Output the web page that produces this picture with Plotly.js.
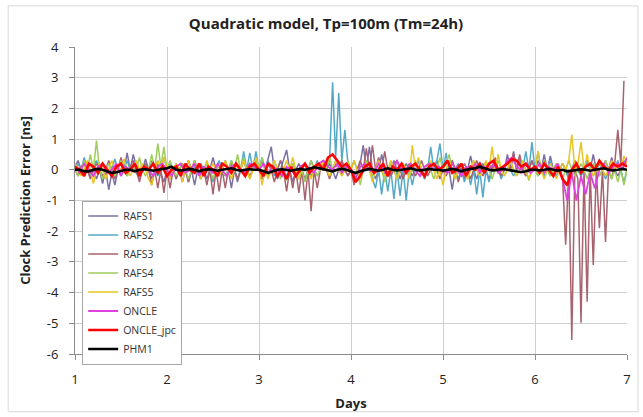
<!DOCTYPE html>
<html>
<head>
<meta charset="utf-8">
<script src="https://cdn.plot.ly/plotly-3.0.1.min.js"></script>
<style>html,body{margin:0;padding:0;background:#fff;}#chart{width:643px;height:417px;}</style>
</head>
<body>
<div id="chart"></div>
<script>
// Series names
const seriesNames = ["RAFS1","RAFS2","RAFS3","RAFS4","RAFS5","ONCLE","ONCLE_jpc","PHM1"];
// Time sampling (days): RAFS series every 48 min, ONCLE/PHM every 72 min, starting day 1
const startDay = 1;
const stepRafs = 1/30;
const stepRef = 0.05;

const rafs1 = [
 0.1,0.3,0.0,-0.2,0.1,0.2,0.0,-0.3,0.0,-0.45,0.0,-0.65,-0.1,-0.5,0.0,0.3,0.0,0.55,0.0,0.5,0.1,-0.2,0.0,0.35,0.0,-0.3,0.0,0.2,-0.1,-0.4,
 0.0,-0.3,0.0,0.2,0.0,-0.4,0.0,0.3,0.0,-0.5,0.0,0.2,0.0,-0.3,0.0,0.4,0.0,-0.2,0.0,0.3,0.0,-0.6,0.0,-0.4,0.0,0.3,0.0,0.2,0.0,0.4,
 0.0,0.3,0.0,0.4,0.75,0.0,-0.3,0.0,0.3,0.65,0.0,-0.4,0.0,0.2,0.0,-0.3,0.0,0.3,0.0,-0.2,0.0,0.3,0.0,0.2,0.0,-0.3,0.0,0.3,0.0,-0.2,
 0.0,-0.2,0.0,0.2,0.8,0.0,0.75,0.0,-0.3,0.0,0.5,0.0,-0.2,0.0,0.3,0.0,-0.3,0.0,0.2,0.0,-0.2,0.0,0.3,0.0,-0.3,0.0,0.2,0.0,0.3,0.0,
 0.0,0.3,0.0,-0.65,0.0,0.2,0.0,-0.3,0.0,0.45,0.0,-0.3,0.0,0.2,0.0,-0.3,0.0,0.2,0.0,-0.2,0.0,0.5,0.0,0.6,0.0,0.3,0.0,-0.2,0.0,0.3,
 0.0,0.3,0.0,0.5,0.0,0.45,0.0,-0.2,0.0,0.2,0.0,-0.3,0.0,0.3,0.0,-0.2,0.0,0.3,0.0,0.5,0.0,-0.2,0.0,0.3,0.0,0.4,0.0,-0.2,0.0,0.3,0.1
];
const rafs2 = [
 0.0,0.2,0.0,0.4,0.0,-0.2,0.1,0.3,0.0,-0.3,0.0,0.2,0.0,0.35,0.0,-0.2,0.0,0.3,0.0,0.1,-0.1,-0.3,0.0,0.2,0.0,0.3,0.0,-0.2,0.0,0.4,
 0.0,0.2,0.0,-0.3,0.0,0.2,0.0,-0.4,0.0,0.1,0.0,-0.3,0.0,0.2,0.0,-0.4,0.0,0.3,0.0,-0.2,0.0,0.3,0.0,-0.3,0.0,0.6,0.0,0.55,0.0,0.6,
 0.0,0.4,0.0,0.3,0.0,-0.2,0.0,0.3,0.0,-0.2,0.0,0.2,0.0,-0.3,0.0,0.2,0.0,-0.2,0.0,0.3,0.0,0.2,0.0,0.3,2.85,0.4,2.5,0.3,1.3,0.2,
 0.0,0.3,0.0,-0.2,0.0,0.2,0.0,-0.3,-0.6,0.0,-0.8,0.0,-0.7,0.0,-0.95,0.0,-0.85,0.0,-1.0,0.0,-0.5,0.0,0.3,0.0,-0.3,0.0,0.75,0.0,0.3,0.85,
 0.0,0.55,0.0,0.3,0.0,-0.3,0.0,-0.4,0.0,-0.5,0.0,-0.8,0.0,-0.9,0.0,-0.4,0.0,0.2,0.0,-0.3,0.0,0.3,0.0,-0.2,0.0,0.4,0.0,0.6,0.0,0.9,
 0.0,0.6,0.0,-0.2,0.0,0.3,0.0,-0.2,0.0,0.2,0.0,-0.3,0.0,0.2,0.0,-0.2,0.0,0.3,0.0,-0.2,0.0,0.2,0.0,-0.3,0.0,0.2,0.0,0.3,0.0,-0.4,0.0
];
const rafs3 = [
 0.0,-0.2,0.1,0.2,0.0,-0.3,0.0,0.2,0.0,-0.2,0.0,0.3,0.0,-0.3,0.0,0.4,0.0,-0.2,0.1,0.3,0.0,-0.4,0.0,0.2,0.0,-0.5,0.0,-0.6,0.0,-0.75,
 0.0,-0.6,0.0,-0.3,0.0,0.2,0.0,-0.4,0.0,0.3,0.0,-0.3,0.0,-0.5,0.0,-0.8,0.0,-0.7,0.0,-0.6,0.0,0.2,0.0,-0.3,0.0,0.3,0.0,-0.2,0.0,0.2,
 0.0,-0.3,0.0,0.2,0.0,-0.4,0.0,0.3,0.0,-0.7,0.0,-0.6,0.0,-0.75,0.0,-1.0,0.0,-1.35,0.0,-0.6,0.0,0.2,0.0,-0.3,0.0,0.2,0.0,0.3,0.0,-0.2,
 0.0,-0.5,0.0,0.3,0.0,0.7,0.0,0.8,0.0,0.4,0.0,0.6,0.0,-0.2,0.0,0.3,0.0,-0.3,0.0,0.2,0.0,-0.2,0.0,0.3,0.0,-0.2,0.0,0.2,0.0,-0.3,
 0.0,-0.2,0.0,0.3,0.0,-0.4,0.0,0.2,0.0,-0.3,0.0,0.3,0.0,-0.2,0.0,0.2,0.0,0.4,0.0,-0.2,0.0,0.3,0.0,0.55,0.0,0.5,0.0,-0.2,0.0,0.3,
 0.0,-0.2,0.0,0.3,0.0,-0.2,0.0,0.2,0.0,-0.3,-2.44,0.0,-5.54,0.0,-0.3,-4.98,0.0,-4.3,0.0,-3.1,0.0,-1.9,0.0,-2.35,0.0,-0.3,0.2,1.3,0.2,2.9
];
const rafs4 = [
 0.0,-0.2,0.0,0.3,0.0,0.5,0.0,0.95,0.0,-0.3,0.0,0.2,0.0,-0.2,0.0,0.3,0.0,-0.2,0.0,0.2,0.0,0.4,0.0,-0.2,0.0,0.5,0.0,0.85,0.1,0.75,
 0.0,0.3,0.0,-0.2,0.0,0.2,0.0,-0.3,0.0,0.3,0.0,-0.2,0.0,0.2,0.0,-0.3,0.0,0.1,0.0,-0.2,0.0,0.3,0.0,0.5,0.0,0.4,0.0,-0.3,0.0,0.3,
 0.0,0.4,0.0,-0.2,0.0,0.3,0.0,-0.3,0.0,-0.35,0.0,0.2,0.0,-0.3,0.0,-0.4,0.0,0.3,0.0,-0.2,0.0,0.3,0.0,0.45,0.0,0.3,0.0,-0.2,0.0,0.3,
 0.0,-0.3,0.0,-0.5,0.0,0.3,0.0,-0.2,0.0,0.3,0.0,-0.4,0.0,0.2,0.0,-0.3,0.0,0.2,0.0,-0.2,0.0,0.3,0.0,-0.2,0.0,0.2,0.0,-0.3,0.0,0.4,
 0.0,0.2,0.5,0.0,-0.3,0.0,0.2,0.0,-0.3,0.0,0.3,0.0,-0.2,0.0,0.2,0.0,-0.3,0.0,0.3,0.0,-0.2,0.0,0.3,0.0,-0.2,0.0,0.2,0.0,-0.35,0.0,
 0.0,-0.2,0.0,0.3,0.0,-0.2,0.0,0.2,0.0,-0.3,0.0,0.3,0.0,-0.2,0.0,0.2,0.0,-0.3,0.0,0.2,0.0,-0.2,0.0,0.3,0.0,-0.3,0.0,-0.4,0.0,-0.5,0.0
];
const rafs5 = [
 0.2,0.0,-0.2,0.0,0.3,0.0,-0.45,0.0,0.2,0.0,-0.3,0.0,0.3,0.0,0.1,0.0,0.35,0.0,-0.2,0.0,0.3,0.0,0.2,0.0,-0.3,-0.5,0.0,0.3,0.0,0.4,
 0.0,-0.3,0.0,0.2,0.0,-0.4,0.0,0.3,0.0,0.2,0.0,-0.3,0.0,0.3,0.0,0.2,0.0,-0.2,0.0,0.3,0.0,-0.3,0.0,0.2,0.0,0.3,0.0,-0.3,0.0,0.4,
 0.1,-0.5,0.0,-0.3,0.0,0.3,0.0,-0.2,0.0,0.3,0.0,0.4,0.0,-0.3,0.0,0.2,0.0,-0.3,0.0,0.2,0.0,0.3,0.0,-0.2,0.0,0.3,0.0,-0.2,0.0,0.2,
 0.0,0.3,0.0,-0.3,0.0,0.2,0.0,-0.4,0.0,0.3,0.0,-0.2,0.0,0.3,0.0,-0.3,0.0,0.2,0.0,-0.3,0.8,0.0,0.4,0.0,-0.2,0.0,0.3,0.0,-0.3,0.0,
 -0.5,0.0,0.3,0.0,-0.3,0.0,0.2,0.0,-0.3,0.0,0.3,0.0,-0.2,0.0,0.3,0.0,0.75,0.0,0.5,0.0,-0.2,0.0,0.3,0.0,-0.2,0.0,0.3,0.0,-0.3,0.0,
 0.0,0.6,0.0,-0.3,0.0,0.2,0.0,-0.3,0.0,0.2,0.0,0.3,1.15,0.0,0.2,0.9,0.0,0.5,0.0,-0.2,0.0,0.3,0.0,-0.2,0.0,0.3,0.0,0.2,0.0,0.45,0.2
];
const oncle = [
 0.1,-0.1,0.2,0.0,-0.2,0.1,0.2,-0.1,0.0,0.2,-0.2,0.1,0.0,0.2,-0.1,0.1,0.0,-0.2,0.1,0.2,
 0.0,-0.2,0.1,0.2,-0.1,0.0,0.2,-0.2,0.1,0.0,-0.1,0.2,0.0,-0.2,0.1,0.2,0.0,-0.1,0.2,0.1,
 0.0,0.2,-0.1,0.1,0.0,-0.2,0.1,0.0,-0.2,0.1,0.2,0.0,-0.1,0.2,0.3,0.1,0.0,0.2,-0.1,0.1,
 0.0,-0.3,0.1,0.2,0.0,-0.1,0.2,0.0,-0.2,0.1,0.3,0.0,-0.1,0.2,0.0,-0.2,0.1,0.2,0.0,0.1,
 0.0,-0.1,0.2,0.0,-0.2,0.1,0.0,0.2,-0.1,0.1,0.0,0.2,-0.1,0.0,0.3,0.4,0.1,0.0,0.2,-0.1,
 0.0,0.2,-0.1,0.1,0.0,0.2,-0.3,-1.0,-0.1,-1.0,-0.2,-0.8,-0.1,-0.6,0.0,0.2,-0.1,0.1,0.2,0.0,0.4
];
const oncleJpc = [
 0.1,0.0,-0.2,0.2,0.1,-0.1,0.2,0.0,-0.2,0.1,0.2,-0.1,0.0,0.2,-0.2,0.1,0.0,0.2,-0.1,0.1,
 -0.2,0.0,0.1,-0.2,0.2,0.0,-0.1,0.2,-0.2,0.1,0.0,-0.2,0.2,0.1,-0.1,0.2,0.0,-0.2,0.1,0.2,
 0.0,-0.2,0.2,0.1,-0.2,0.0,-0.3,0.1,-0.2,0.0,0.2,-0.1,0.1,0.2,0.0,0.4,0.5,0.3,0.1,0.2,
 0.0,-0.4,-0.2,0.1,0.2,-0.1,0.0,0.2,-0.2,0.1,0.0,0.2,-0.1,0.1,0.2,0.0,-0.2,0.1,0.2,0.0,
 0.1,0.3,-0.1,0.0,0.2,-0.2,0.1,0.0,0.2,-0.1,0.2,0.3,0.0,0.1,0.2,0.35,0.3,0.1,0.2,0.0,
 0.1,-0.1,0.2,0.0,-0.2,0.1,-0.3,-0.5,0.0,0.2,-0.1,0.1,0.2,0.0,0.3,0.1,0.0,0.2,0.1,0.2,0.1
];
const phm1 = [
 0.0,0.0,-0.05,-0.05,0.0,0.03,0.0,-0.05,-0.1,-0.08,-0.05,0.0,0.0,-0.05,0.0,0.02,0.0,-0.03,0.0,0.02,
 0.05,0.1,0.0,-0.02,0.0,0.03,0.0,-0.05,0.0,0.02,0.0,-0.03,0.0,0.02,0.05,0.0,-0.03,0.0,0.02,0.0,
 0.0,-0.05,-0.1,-0.05,0.0,0.02,0.0,-0.03,0.0,0.03,0.0,0.05,0.08,0.05,0.02,0.0,-0.05,0.0,0.03,0.0,
 -0.05,-0.1,-0.05,0.0,0.03,0.0,-0.03,0.0,0.05,0.0,-0.02,0.0,0.03,0.05,0.0,-0.02,0.0,0.03,0.0,0.0,
 -0.03,0.0,0.03,0.0,-0.05,0.0,0.02,0.05,0.1,0.05,0.0,-0.02,0.0,0.03,0.0,-0.03,-0.05,-0.08,-0.05,0.0,
 0.0,-0.02,0.0,0.03,0.0,-0.03,0.0,-0.05,-0.03,0.0,0.02,0.0,-0.03,0.0,0.02,0.05,0.0,-0.02,0.0,0.03,0.0
];
const xTicks = [1,2,3,4,5,6,7];
const yTicks = [-6,-5,-4,-3,-2,-1,0,1,2,3,4];

const values = [rafs1, rafs2, rafs3, rafs4, rafs5, oncle, oncleJpc, phm1];
const colors = ["#7b6fa3","#55a9c6","#a8636e","#9fcd5c","#e9c523","#e040e0","#ff0000","#000000"];
const widths = [1.5,1.5,1.5,1.5,1.5,1.8,2.6,2.6];
const steps = [stepRafs,stepRafs,stepRafs,stepRafs,stepRafs,stepRef,stepRef,stepRef];

const traces = values.map((v,k)=>({
  type:'scatter', mode:'lines', name: seriesNames[k],
  x0: startDay, dx: steps[k], y: v,
  line:{color: colors[k], width: widths[k]}
}));

const font = "Open Sans, Liberation Sans, sans-serif";
const layout = {
  width:643, height:417,
  margin:{l:75, r:16, t:47, b:63},
  paper_bgcolor:'#ffffff', plot_bgcolor:'#ffffff',
  showlegend:true,
  font:{family:font, size:13, color:'#222'},
  title:{text:'<b>Quadratic model, Tp=100m (Tm=24h)</b>', font:{family:font, size:15, color:'#222'},
         x:0.507, xref:'container', y:0.942, yref:'container', xanchor:'center', yanchor:'middle'},
  xaxis:{range:[1,7], tickvals:xTicks, ticktext:xTicks.map(String), showgrid:true, gridcolor:'#cfcfcf', gridwidth:1,
         showline:true, linecolor:'#8c8c8c', linewidth:1, ticks:'outside', ticklen:5, tickcolor:'#8c8c8c',
         ticklabelstandoff:8,
         zeroline:false, mirror:false, tickfont:{family:font, size:13, color:'#222'},
         title:{text:'<b>Days</b>', font:{family:font, size:13, color:'#222'}, standoff:12}},
  yaxis:{range:[-6,4], tickvals:yTicks, ticktext:yTicks.map(String), showgrid:true, gridcolor:'#cfcfcf', gridwidth:1,
         showline:true, linecolor:'#8c8c8c', linewidth:1, ticks:'outside', ticklen:5, tickcolor:'#8c8c8c',
         ticklabelstandoff:8,
         zeroline:false, tickfont:{family:font, size:13, color:'#222'},
         title:{text:'<b>Clock Prediction Error [ns]</b>', font:{family:font, size:13, color:'#222'}, standoff:13}},
  legend:{x:0.013, y:0.5, xanchor:'left', yanchor:'top', bgcolor:'#ffffff', bordercolor:'#a6a6a6', borderwidth:1,
          font:{family:font, size:10.5, color:'#333'}, tracegroupgap:0, itemwidth:30},
  shapes:[
    {type:'rect', xref:'paper', yref:'paper', x0:-0.121, x1:1.02, y0:-0.188, y1:1.134, line:{color:'#d9d9d9', width:1}, fillcolor:'rgba(0,0,0,0)', layer:'below'}
  ]
};
Plotly.newPlot('chart', traces, layout, {displayModeBar:false, staticPlot:true});
</script>
</body>
</html>
